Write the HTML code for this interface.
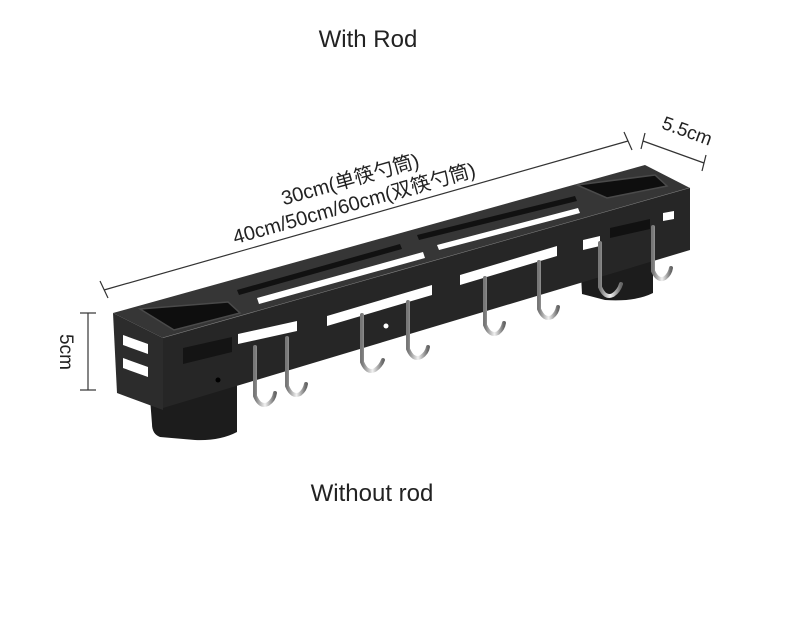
<!DOCTYPE html>
<html><head><meta charset="utf-8"><style>
html,body{margin:0;padding:0;background:#fff;width:790px;height:618px;overflow:hidden}
svg{display:block}
text{font-family:"Liberation Sans","Noto Sans CJK SC",sans-serif;fill:#222}
</style></head><body>
<svg width="790" height="618" viewBox="0 0 790 618">
<defs>
<linearGradient id="hk" x1="0" x2="1"><stop offset="0" stop-color="#777"/><stop offset=".5" stop-color="#f2f2f2"/><stop offset="1" stop-color="#666"/></linearGradient>
</defs>
<text x="368" y="47" font-size="24" text-anchor="middle">With Rod</text>
<text x="372" y="501" font-size="24" text-anchor="middle">Without rod</text>

<g stroke="#333" stroke-width="1.2" fill="none">
<line x1="104" y1="290" x2="628" y2="141"/>
<line x1="100" y1="281" x2="108" y2="298"/>
<line x1="624" y1="132" x2="632" y2="150"/>
<line x1="643" y1="141" x2="704" y2="163"/>
<line x1="645" y1="133" x2="641" y2="149"/>
<line x1="706" y1="155" x2="702" y2="171"/>
<line x1="88" y1="313" x2="88" y2="390"/>
<line x1="80" y1="313" x2="96" y2="313"/>
<line x1="80" y1="390" x2="96" y2="390"/>
</g>
<g transform="translate(352,186) rotate(-15.8)"><text font-size="20" text-anchor="middle">30cm(单筷勺筒)</text></g>
<g transform="translate(356,210) rotate(-15.8)"><text font-size="20" text-anchor="middle">40cm/50cm/60cm(双筷勺筒)</text></g>
<g transform="translate(685,137) rotate(20)"><text font-size="19" text-anchor="middle">5.5cm</text></g>
<g transform="translate(60,352) rotate(90)"><text font-size="19" text-anchor="middle">5cm</text></g>

<!-- feet -->
<path d="M150,398 L237,385 L237,432 Q220,441 195,440 L160,437 Q152,434 152,424 Z" fill="#1c1c1c"/>
<path d="M580,255 L653,243 L653,293 Q635,302 605,300 L582,294 Z" fill="#1c1c1c"/>
<!-- top face -->
<path d="M113,313 L163,338 L690,188 L645,165 Z" fill="#363636"/>
<path d="M163,338 L690,188" stroke="#888" stroke-width="1"/>
<!-- cups -->
<path d="M140,309 L228,302 L240,313 L174,330 Z" fill="#0e0e0e" stroke="#4a4a4a" stroke-width="1.5"/>
<path d="M577,185 L655,175 L667,186 L607,198 Z" fill="#0e0e0e" stroke="#4a4a4a" stroke-width="1.5"/>
<!-- top slots -->
<path d="M237,290 L400,244 L402,249 L239,295 Z" fill="#111"/>
<path d="M257,298 L423,252 L425,258 L259,304 Z" fill="#fff"/>
<path d="M417,235 L575,196 L577,201 L419,240 Z" fill="#111"/>
<path d="M437,245 L578,208 L580,213 L439,250 Z" fill="#fff"/>
<!-- end face -->
<path d="M113,313 L163,338 L163,410 L117,393 Z" fill="#2c2c2c"/>
<path d="M123,335 L148,344 L148,354 L123,345 Z" fill="#fff"/>
<path d="M123,358 L148,367 L148,377 L123,368 Z" fill="#fff"/>
<!-- front face -->
<path d="M163,338 L690,188 L690,250 L163,408 Z" fill="#262626"/>
<path d="M183,348 L232,337 L232,352 L183,364 Z" fill="#141414"/>
<!-- front slots -->
<path d="M238,334 L297,321 L297,331 L238,344 Z" fill="#fff"/>
<path d="M327,316 L432,285 L432,295 L327,326 Z" fill="#fff"/>
<path d="M460,275 L557,246 L557,256 L460,285 Z" fill="#fff"/>
<path d="M583,240 L600,236 L600,246 L583,250 Z" fill="#fff"/>
<path d="M610,228 L650,219 L650,229 L610,238 Z" fill="#111"/>
<path d="M663,213 L674,211 L674,219 L663,221 Z" fill="#fff"/>
<circle cx="218" cy="380" r="2.5" fill="#000"/>
<circle cx="386" cy="326" r="2.5" fill="#fff"/>
<!-- hooks -->
<g fill="none" stroke="url(#hk)" stroke-width="4" stroke-linecap="round">
<path d="M255,347 L255,396 Q260,408 268,404 Q274,400 275,393"/>
<path d="M287,338 L287,386 Q292,398 300,394 Q305,390 306,384"/>
<path d="M362,315 L362,362 Q367,374 375,370 Q381,366 383,360"/>
<path d="M408,302 L408,349 Q413,361 421,357 Q427,353 428,347"/>
<path d="M485,278 L485,325 Q490,337 498,333 Q503,329 504,323"/>
<path d="M539,262 L539,309 Q544,321 552,317 Q557,313 558,307"/>
<path d="M600,243 L600,287 Q605,299 613,295 Q619,291 621,284"/>
<path d="M653,227 L653,271 Q658,282 665,278 Q670,274 671,268"/>
</g>
</svg>
</body></html>
